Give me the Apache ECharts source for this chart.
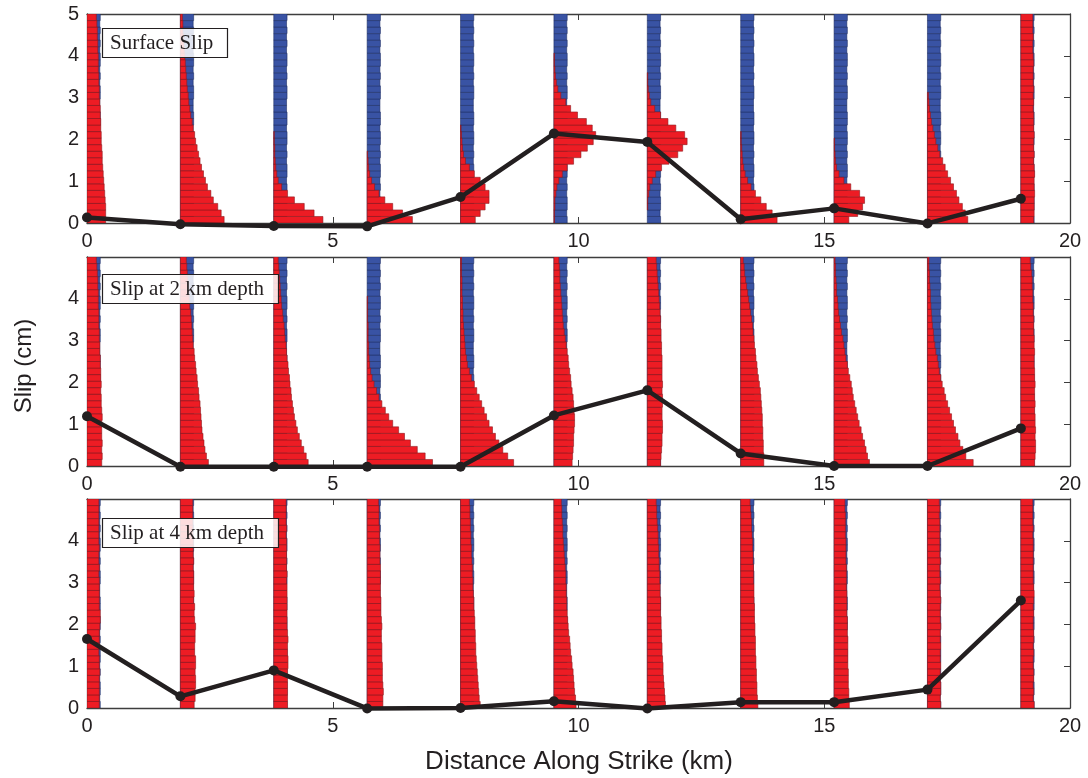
<!DOCTYPE html>
<html>
<head>
<meta charset="utf-8">
<script src="https://cdn.jsdelivr.net/npm/echarts@6/dist/echarts.min.js"></script>
<style>
html,body{margin:0;padding:0;background:#fff;}
#chart{width:1088px;height:778px;}
</style>
</head>
<body>
<div id="chart"></div>
<script>
// ---------- data ----------
const stations = [0, 1.9, 3.8, 5.7, 7.6, 9.5, 11.4, 13.3, 15.2, 17.1, 19.0];
const binHeight = 5 / 32;          // slip bin size (cm)
const xTicks = [0, 5, 10, 15, 20];
const yTicksTop = [0, 1, 2, 3, 4, 5];
const yTicksLower = [0, 1, 2, 3, 4];
const panelTitles = ['Surface Slip', 'Slip at 2 km depth', 'Slip at 4 km depth'];

// best-fit slip (cm) at each station
const surfaceSlip = [0.13, -0.03, -0.07, -0.08, 0.62, 2.14, 1.94, 0.09, 0.35, -0.01, 0.58];
const slip2km     = [1.19, -0.02, -0.02, -0.02, -0.02, 1.21, 1.81, 0.30, 0.0, 0.0, 0.90];
const slip4km     = [1.65, 0.28, 0.90, -0.01, 0.0, 0.16, -0.01, 0.14, 0.14, 0.44, 2.57];

// prior histogram bar lengths (km), bins bottom to top
const priorWidths = [0.27,0.26,0.27,0.27,0.26,0.27,0.26,0.27,0.27,0.26,0.27,0.26,0.27,0.27,0.26,0.27,
                     0.27,0.26,0.26,0.27,0.27,0.26,0.27,0.26,0.27,0.27,0.26,0.27,0.26,0.27,0.26,0.27];

// posterior histogram bar lengths (km), one list per station, bins bottom to top
const postSurface = [
  [0.38,0.38,0.38,0.37,0.36,0.35,0.34,0.33,0.32,0.31,0.31,0.30,0.29,0.29,0.28,0.28,0.27,0.27,0.26,0.25,0.25,0.24,0.24,0.23,0.23,0.23,0.22,0.22,0.21,0.21,0.20,0.19],
  [0.89,0.83,0.76,0.67,0.62,0.55,0.51,0.47,0.43,0.40,0.37,0.34,0.31,0.29,0.26,0.24,0.21,0.19,0.17,0.16,0.14,0.13,0.12,0.11,0.10,0.09,0.08,0.07,0.06,0.05,0.05,0.04],
  [1.00,0.82,0.62,0.42,0.28,0.16,0.09,0.06,0.04,0.03,0.02,0.02,0.01,0.01],
  [0.92,0.72,0.52,0.36,0.24,0.15,0.09,0.05,0.03,0.02,0.01],
  [0.30,0.40,0.50,0.58,0.58,0.50,0.40,0.28,0.18,0.10,0.06,0.04,0.03,0.02,0.01],
  [0.01,0.01,0.02,0.02,0.04,0.06,0.10,0.17,0.27,0.40,0.55,0.68,0.80,0.85,0.78,0.66,0.48,0.34,0.24,0.14,0.08,0.05,0.03,0.02,0.01,0.01],
  [0,0,0.01,0.01,0.03,0.05,0.10,0.17,0.29,0.44,0.62,0.72,0.81,0.76,0.58,0.42,0.27,0.15,0.07,0.04,0.02,0.01,0.01],
  [0.74,0.64,0.52,0.41,0.30,0.21,0.14,0.09,0.06,0.04,0.03,0.02,0.01,0.01],
  [0.30,0.48,0.58,0.62,0.52,0.34,0.20,0.10,0.05,0.03,0.02,0.01,0.01],
  [0.82,0.77,0.71,0.64,0.59,0.53,0.47,0.41,0.36,0.31,0.25,0.21,0.17,0.14,0.11,0.08,0.06,0.04,0.03,0.02],
  [0.26,0.27,0.27,0.27,0.28,0.27,0.27,0.28,0.27,0.26,0.27,0.26,0.26,0.27,0.26,0.26,0.26,0.25,0.26,0.25,0.26,0.25,0.25,0.25,0.26,0.25,0.24,0.24,0.25,0.24,0.24,0.24]
];
const post2km = [
  [0.30,0.31,0.30,0.31,0.30,0.30,0.30,0.31,0.30,0.29,0.29,0.28,0.29,0.28,0.28,0.27,0.27,0.26,0.26,0.25,0.25,0.24,0.24,0.24,0.23,0.23,0.23,0.22,0.22,0.21,0.20,0.19],
  [0.57,0.53,0.50,0.48,0.46,0.44,0.43,0.42,0.41,0.40,0.38,0.37,0.35,0.34,0.32,0.31,0.29,0.28,0.26,0.25,0.24,0.23,0.22,0.21,0.19,0.18,0.17,0.16,0.15,0.14,0.13,0.12],
  [0.70,0.66,0.61,0.56,0.52,0.48,0.45,0.42,0.40,0.38,0.36,0.35,0.33,0.32,0.30,0.29,0.27,0.26,0.25,0.23,0.22,0.21,0.19,0.18,0.16,0.15,0.14,0.13,0.12,0.11,0.10,0.09],
  [1.33,1.18,1.02,0.88,0.76,0.64,0.52,0.44,0.37,0.30,0.24,0.19,0.14,0.10,0.07,0.05,0.04,0.03,0.03,0.02,0.02,0.02,0.01,0.01,0.01,0.01],
  [1.08,0.96,0.86,0.78,0.71,0.65,0.58,0.53,0.48,0.43,0.38,0.33,0.28,0.22,0.18,0.14,0.12,0.10,0.09,0.08,0.07,0.06,0.05,0.05,0.04,0.04,0.03,0.03,0.03,0.02,0.02,0.02],
  [0.37,0.38,0.39,0.40,0.40,0.41,0.42,0.42,0.41,0.40,0.39,0.37,0.35,0.34,0.32,0.30,0.29,0.27,0.25,0.23,0.21,0.19,0.18,0.17,0.16,0.15,0.14,0.13,0.12,0.12,0.11,0.10],
  [0.27,0.28,0.29,0.30,0.30,0.31,0.31,0.30,0.30,0.31,0.31,0.30,0.31,0.30,0.30,0.30,0.30,0.29,0.29,0.28,0.28,0.27,0.27,0.26,0.25,0.24,0.23,0.22,0.21,0.20,0.19,0.18],
  [0.47,0.47,0.46,0.46,0.45,0.45,0.44,0.44,0.43,0.42,0.41,0.40,0.38,0.36,0.34,0.33,0.31,0.30,0.28,0.27,0.25,0.24,0.22,0.20,0.18,0.16,0.14,0.12,0.10,0.08,0.07,0.05],
  [0.72,0.68,0.65,0.62,0.58,0.55,0.51,0.48,0.45,0.42,0.39,0.37,0.35,0.32,0.29,0.27,0.24,0.22,0.20,0.18,0.15,0.13,0.11,0.09,0.08,0.07,0.05,0.05,0.04,0.03,0.03,0.02],
  [0.93,0.78,0.72,0.66,0.62,0.57,0.53,0.49,0.45,0.41,0.37,0.34,0.30,0.27,0.24,0.22,0.20,0.17,0.15,0.13,0.12,0.10,0.09,0.08,0.07,0.06,0.06,0.05,0.04,0.04,0.03,0.03],
  [0.28,0.29,0.30,0.30,0.29,0.30,0.29,0.29,0.28,0.29,0.28,0.28,0.29,0.28,0.28,0.27,0.27,0.28,0.27,0.27,0.26,0.26,0.26,0.25,0.25,0.24,0.24,0.23,0.23,0.22,0.20,0.19]
];
const post4km = [
  [0.25,0.25,0.25,0.25,0.25,0.26,0.25,0.25,0.24,0.25,0.25,0.25,0.26,0.27,0.27,0.25,0.25,0.25,0.25,0.25,0.24,0.25,0.24,0.24,0.25,0.24,0.24,0.24,0.24,0.24,0.24,0.24],
  [0.28,0.30,0.30,0.31,0.31,0.30,0.31,0.31,0.29,0.29,0.30,0.30,0.31,0.29,0.28,0.29,0.27,0.28,0.27,0.27,0.27,0.26,0.27,0.26,0.26,0.26,0.25,0.25,0.25,0.25,0.25,0.25],
  [0.28,0.28,0.28,0.28,0.28,0.28,0.29,0.29,0.28,0.28,0.29,0.28,0.27,0.27,0.27,0.27,0.27,0.27,0.27,0.26,0.27,0.26,0.26,0.26,0.26,0.26,0.25,0.26,0.25,0.25,0.25,0.25],
  [0.32,0.32,0.33,0.32,0.31,0.31,0.31,0.30,0.30,0.30,0.29,0.29,0.30,0.29,0.28,0.28,0.28,0.27,0.27,0.27,0.27,0.27,0.26,0.26,0.26,0.25,0.25,0.25,0.24,0.24,0.24,0.23],
  [0.40,0.38,0.37,0.36,0.35,0.34,0.33,0.32,0.31,0.31,0.30,0.30,0.29,0.29,0.28,0.27,0.27,0.26,0.25,0.25,0.24,0.24,0.23,0.22,0.22,0.21,0.21,0.20,0.20,0.19,0.19,0.18],
  [0.45,0.44,0.42,0.41,0.40,0.39,0.37,0.36,0.34,0.33,0.32,0.30,0.29,0.28,0.27,0.26,0.26,0.25,0.25,0.24,0.24,0.23,0.22,0.21,0.20,0.19,0.18,0.18,0.17,0.16,0.16,0.15],
  [0.37,0.36,0.35,0.34,0.33,0.32,0.32,0.31,0.30,0.30,0.29,0.29,0.28,0.28,0.27,0.27,0.27,0.26,0.26,0.25,0.25,0.24,0.24,0.23,0.23,0.22,0.22,0.21,0.20,0.19,0.19,0.18],
  [0.35,0.34,0.33,0.33,0.32,0.32,0.31,0.31,0.30,0.30,0.30,0.29,0.29,0.28,0.28,0.28,0.27,0.27,0.27,0.26,0.26,0.26,0.25,0.25,0.24,0.24,0.23,0.22,0.22,0.21,0.20,0.19],
  [0.31,0.30,0.30,0.29,0.29,0.29,0.28,0.28,0.28,0.28,0.28,0.27,0.27,0.27,0.26,0.26,0.26,0.26,0.25,0.25,0.25,0.25,0.24,0.24,0.24,0.24,0.23,0.23,0.23,0.23,0.22,0.22],
  [0.27,0.26,0.27,0.27,0.26,0.26,0.27,0.26,0.26,0.27,0.26,0.26,0.27,0.26,0.26,0.26,0.27,0.26,0.25,0.26,0.25,0.25,0.26,0.25,0.25,0.25,0.25,0.25,0.25,0.24,0.25,0.24],
  [0.27,0.25,0.26,0.25,0.26,0.26,0.25,0.25,0.26,0.25,0.26,0.26,0.25,0.25,0.26,0.25,0.26,0.27,0.26,0.25,0.25,0.25,0.25,0.25,0.25,0.25,0.24,0.25,0.24,0.24,0.24,0.24]
];

// ---------- build chart ----------
const INK = '#231f20';
const AXIS = '#3d3d3d';
const RED = '#ed1c24', RED_EDGE = '#8f1a1e';
const BLUE = '#3953a4', BLUE_EDGE = '#1f2f66';
const slips = [surfaceSlip, slip2km, slip4km];
const posts = [postSurface, post2km, post4km];
const gridTops = [14, 257, 499];
const titleTops = [28, 274, 518];
const gridH = 209;

function histData(lists) {
  const out = [];
  stations.forEach((sx, i) => {
    lists[i].forEach((w, j) => { if (w > 0) out.push([sx, j * binHeight, w]); });
  });
  return out;
}
function priorData() {
  const out = [];
  stations.forEach(sx => priorWidths.forEach((w, j) => out.push([sx, j * binHeight, w])));
  return out;
}
function makeRender(fill, stroke) {
  return function (params, api) {
    const x0 = api.value(0), y0 = api.value(1), w = api.value(2);
    const a = api.coord([x0, y0 + binHeight]);
    const b = api.coord([x0 + w, y0]);
    return {
      type: 'rect',
      shape: { x: a[0], y: a[1], width: b[0] - a[0], height: b[1] - a[1] },
      style: { fill: fill, stroke: stroke, lineWidth: 0.6 }
    };
  };
}

const FONT = 'Liberation Sans';
const grids = [], xAxes = [], yAxes = [], series = [], titles = [];
const axLine = { show: true, onZero: false, lineStyle: { color: AXIS, width: 1.3 } };
const tick = { show: true, inside: true, length: 6, lineStyle: { color: AXIS, width: 1 } };
for (let p = 0; p < 3; p++) {
  grids.push({ left: 87, right: 18, top: gridTops[p], height: gridH, show: false });
  xAxes.push({
    gridIndex: p, type: 'value', min: 0, max: 20, interval: 5, position: 'bottom',
    axisLine: axLine, splitLine: { show: false }, axisTick: tick,
    axisLabel: { color: INK, fontSize: 20, fontFamily: FONT, margin: 8,
      formatter: v => xTicks.includes(v) ? String(v) : '' }
  });
  xAxes.push({
    gridIndex: p, type: 'value', min: 0, max: 20, interval: 5, position: 'top',
    axisLine: axLine, splitLine: { show: false }, axisTick: tick,
    axisLabel: { show: false }
  });
  const labels = p === 0 ? yTicksTop : yTicksLower;
  yAxes.push({
    gridIndex: p, type: 'value', min: 0, max: 5, interval: 1, position: 'left',
    axisLine: axLine, splitLine: { show: false }, axisTick: tick,
    axisLabel: { color: INK, fontSize: 20, fontFamily: FONT, margin: 8,
      formatter: v => labels.includes(v) ? String(v) : '' }
  });
  yAxes.push({
    gridIndex: p, type: 'value', min: 0, max: 5, interval: 1, position: 'right',
    axisLine: axLine, splitLine: { show: false }, axisTick: tick,
    axisLabel: { show: false }
  });
  series.push({
    type: 'custom', xAxisIndex: 2 * p, yAxisIndex: 2 * p, z: 1, silent: true,
    renderItem: makeRender(BLUE, BLUE_EDGE), data: priorData(), clip: true
  });
  series.push({
    type: 'custom', xAxisIndex: 2 * p, yAxisIndex: 2 * p, z: 2, silent: true,
    renderItem: makeRender(RED, RED_EDGE), data: histData(posts[p]), clip: true
  });
  series.push({
    type: 'line', xAxisIndex: 2 * p, yAxisIndex: 2 * p, z: 5, clip: false,
    data: stations.map((sx, i) => [sx, slips[p][i]]),
    symbol: 'circle', symbolSize: 10, showSymbol: true,
    lineStyle: { color: INK, width: 4.5 }, itemStyle: { color: INK },
    animation: false
  });
  titles.push({
    text: panelTitles[p], left: 102, top: titleTops[p],
    padding: [4, 15, 4, 8],
    borderColor: INK, borderWidth: 1.2, backgroundColor: 'rgba(255,255,255,0.85)',
    textStyle: { fontFamily: 'Liberation Serif', fontSize: 21, fontWeight: 'normal', color: INK, lineHeight: 22 }
  });
}

const chart = echarts.init(document.getElementById('chart'), null, { renderer: 'canvas' });
chart.setOption({
  animation: false,
  backgroundColor: '#fff',
  title: titles,
  grid: grids,
  xAxis: xAxes,
  yAxis: yAxes,
  series: series,
  graphic: [
    { type: 'text', x: 24, y: 366, rotation: Math.PI / 2,
      style: { text: 'Slip (cm)', fill: INK, fontSize: 24, fontFamily: FONT, align: 'center', verticalAlign: 'middle' } },
    { type: 'text', x: 579, y: 762,
      style: { text: 'Distance Along Strike (km)', fill: INK, fontSize: 26, fontFamily: FONT, align: 'center', verticalAlign: 'middle' } }
  ]
});
</script>
</body>
</html>
